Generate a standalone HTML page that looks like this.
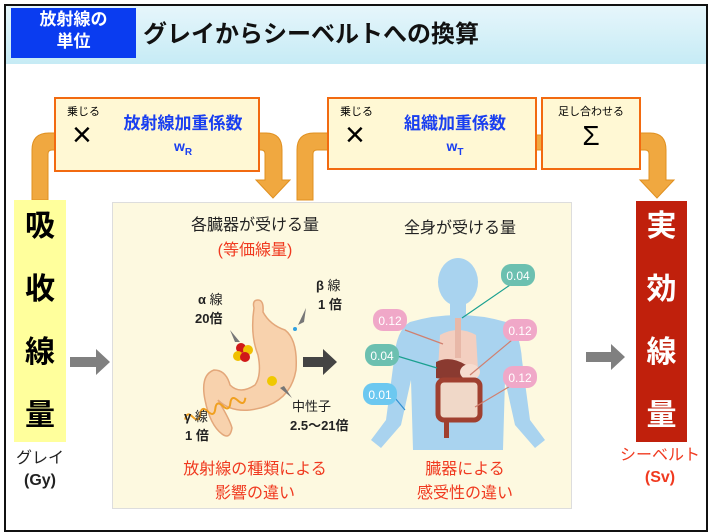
<!DOCTYPE html>
<html><head><meta charset="utf-8"><style>
body{margin:0;width:709px;height:532px;background:#fff;overflow:hidden;font-family:"Liberation Sans","Noto Sans CJK JP",sans-serif;}
.a{position:absolute;}
.c{position:absolute;text-align:center;white-space:nowrap;}
</style></head><body>
<div class="a" style="left:4px;top:4px;width:700px;height:524px;border:2px solid #111;"></div>
<div class="a" style="left:6px;top:6px;width:700px;height:58px;background:linear-gradient(#e6f6fb,#c6ebf5);"></div>
<div class="a" style="left:11px;top:8px;width:125px;height:50px;background:#0a3cf0;"></div>
<div class="c" style="left:11px;top:9px;width:125px;color:#fff;font-size:17px;line-height:22px;font-weight:bold;">放射線の<br>単位</div>
<div class="a" style="left:143px;top:14px;font-size:24px;font-weight:bold;color:#111;">グレイからシーベルトへの換算</div>

<svg class="a" style="left:0;top:0" width="709" height="532">
<g fill="#f0a840" stroke="#e09020" stroke-width="1">
<path d="M32 200 V150 Q32 133 49 133 H60 V150 H52 Q48 150 48 154 V200 Z"/>
<path d="M255 133 H266 Q282 133 282 150 V180 H290 L273 198 L256 180 H265 V154 Q265 150 261 150 H255 Z"/>
<path d="M297 200 V150 Q297 133 314 133 H330 V150 H317 Q313 150 313 154 V200 Z"/>
<path d="M533 135 H543 V150 H533 Z"/>
<path d="M638 133 H650 Q666 133 666 150 V180 H674 L657 198 L640 180 H649 V154 Q649 150 645 150 H638 Z"/>
</g>
<g fill="#808080"><path d="M70 357 H96 V349 L110 362 L96 375 V367 H70 Z"/><path d="M586 352 H611 V344 L625 357 L611 370 V362 H586 Z"/></g>
</svg>

<div class="a" style="left:54px;top:97px;width:202px;height:71px;border:2px solid #f26a10;background:#fff8d4;"></div>
<div class="a" style="left:67px;top:103px;font-size:11px;">乗じる</div>
<div class="a" style="left:72px;top:116px;font-size:34px;">×</div>
<div class="c" style="left:108px;top:113px;width:150px;color:#1a3ff0;font-weight:bold;font-size:17px;line-height:22px;">放射線加重係数<br><span style="font-size:14px">w<sub style="font-size:10px">R</sub></span></div>

<div class="a" style="left:327px;top:97px;width:206px;height:69px;border:2px solid #f26a10;background:#fff8d4;"></div>
<div class="a" style="left:340px;top:103px;font-size:11px;">乗じる</div>
<div class="a" style="left:345px;top:116px;font-size:34px;">×</div>
<div class="c" style="left:380px;top:113px;width:150px;color:#1a3ff0;font-weight:bold;font-size:17px;line-height:22px;">組織加重係数<br><span style="font-size:14px">w<sub style="font-size:10px">T</sub></span></div>

<div class="a" style="left:541px;top:97px;width:96px;height:69px;border:2px solid #f26a10;background:#fff8d4;"></div>
<div class="c" style="left:541px;top:103px;width:100px;font-size:11px;">足し合わせる</div>
<div class="c" style="left:541px;top:120px;width:100px;font-size:28px;">Σ</div>

<div class="a" style="left:14px;top:200px;width:52px;height:242px;background:#ffff9c;"></div>
<div class="c" style="left:14px;top:195px;width:52px;font-size:30px;font-weight:bold;line-height:63px;">吸<br>收<br>線<br>量</div>
<div class="c" style="left:10px;top:448px;width:60px;font-size:16px;line-height:22px;color:#222;">グレイ<br><b>(Gy)</b></div>

<div class="a" style="left:636px;top:201px;width:51px;height:241px;background:#c0200c;"></div>
<div class="c" style="left:636px;top:195px;width:51px;font-size:30px;font-weight:bold;line-height:63px;color:#fff;">実<br>効<br>線<br>量</div>
<div class="c" style="left:600px;top:445px;width:120px;font-size:16px;line-height:22px;color:#f03a20;">シーベルト<br><b>(Sv)</b></div>

<div class="a" style="left:112px;top:202px;width:458px;height:305px;background:#fdf9e0;border:1px solid #ddd;"></div>
<div class="c" style="left:155px;top:211px;width:200px;font-size:16px;color:#222;">各臓器が受ける量</div>
<div class="c" style="left:155px;top:236px;width:200px;font-size:16px;color:#f03a20;">(等価線量)</div>
<div class="c" style="left:370px;top:214px;width:180px;font-size:16px;color:#222;">全身が受ける量</div>
<div class="c" style="left:155px;top:458px;width:200px;font-size:16px;line-height:24px;color:#f03a20;">放射線の種類による<br>影響の違い</div>
<div class="c" style="left:375px;top:458px;width:180px;font-size:16px;line-height:24px;color:#f03a20;">臓器による<br>感受性の違い</div>

<svg class="a" style="left:0;top:0" width="709" height="532" font-family="Liberation Sans,Noto Sans CJK JP,sans-serif">
<path d="M254 308 Q252 300 258 300 Q264 300 263 312 Q270 325 285 330 Q298 340 296 370 Q290 405 250 410 Q230 412 218 400 Q230 420 232 428 Q230 440 222 434 Q210 425 205 400 Q200 375 214 370 Q226 370 230 385 Q240 395 255 385 Q262 375 258 355 Q250 335 254 308 Z" fill="#f8d2ad" stroke="#e3a77a" stroke-width="1.5"/>
<path d="M180 410 q4 -8 8 0 q4 8 8 0 q4 -8 8 0 q4 8 8 0 q4 -8 8 0 q4 8 8 0 q4 -8 8 0 q4 8 8 0" fill="none" stroke="#f0a020" stroke-width="2" transform="rotate(-20 210 400)"/>
<circle cx="241" cy="348" r="5" fill="#d01818"/><circle cx="248" cy="350" r="5" fill="#f0c000"/><circle cx="238" cy="356" r="5" fill="#f0c000"/><circle cx="245" cy="357" r="5" fill="#d01818"/>
<circle cx="272" cy="381" r="5" fill="#f0c800"/><circle cx="295" cy="329" r="2" fill="#30a0e0"/>
<g fill="#777"><path d="M230 330 l10 12 l-5 0 z"/><path d="M306 308 l-8 17 l6 -3 z"/><path d="M292 398 l-12 -10 l4 -2 z"/></g>
<path d="M303 357 H323 V349 L337 362 L323 375 V367 H303 Z" fill="#444"/>
<g font-size="13" fill="#222" font-weight="bold">
<text x="198" y="304">α<tspan font-weight="normal"> 線</tspan></text><text x="195" y="323">20倍</text>
<text x="316" y="290">β<tspan font-weight="normal"> 線</tspan></text><text x="318" y="309">1 倍</text>
<text x="184" y="421">γ<tspan font-weight="normal"> 線</tspan></text><text x="185" y="440">1 倍</text>
<text x="292" y="411" font-weight="normal">中性子</text><text x="290" y="430">2.5〜21倍</text>
</g>
<g fill="#a9d3ef">
<ellipse cx="458" cy="282" rx="20" ry="24"/>
<rect x="450" y="300" width="16" height="20"/>
<path d="M410 322 Q458 308 506 322 Q520 330 522 360 L530 420 L545 440 L535 448 L515 425 L505 380 L503 450 L413 450 L411 380 L401 425 L381 448 L371 440 L386 420 L394 360 Q396 330 410 322 Z"/>
</g>
<path d="M440 335 Q458 325 476 335 L478 370 L438 370 Z" fill="#f3cfc0"/>
<rect x="455" y="318" width="6" height="40" fill="#e8b8a8"/>
<path d="M436 362 Q450 355 466 365 L462 382 L436 378 Z" fill="#8a3a30"/>
<ellipse cx="470" cy="372" rx="10" ry="8" fill="#f6dccf"/>
<rect x="438" y="380" width="42" height="40" rx="6" fill="#f0d8c8" stroke="#a04030" stroke-width="5"/>
<rect x="444" y="420" width="5" height="18" fill="#a04030"/>
<g stroke-width="1.2">
<line x1="462" y1="318" x2="510" y2="285" stroke="#1aa090"/>
<line x1="405" y1="330" x2="443" y2="344" stroke="#d08070"/>
<line x1="397" y1="356" x2="437" y2="368" stroke="#1aa090"/>
<line x1="395" y1="398" x2="405" y2="410" stroke="#3090d0"/>
<line x1="512" y1="340" x2="470" y2="375" stroke="#d08070"/>
<line x1="512" y1="385" x2="475" y2="407" stroke="#d08070"/>
</g>
<g font-size="12" fill="#fff" text-anchor="middle">
<rect x="501" y="264" width="34" height="22" rx="10" fill="#6cc0b0"/><text x="518" y="280">0.04</text>
<rect x="373" y="309" width="34" height="22" rx="10" fill="#f0a8c8"/><text x="390" y="325">0.12</text>
<rect x="503" y="319" width="34" height="22" rx="10" fill="#f0a8c8"/><text x="520" y="335">0.12</text>
<rect x="365" y="344" width="34" height="22" rx="10" fill="#6cc0b0"/><text x="382" y="360">0.04</text>
<rect x="503" y="366" width="34" height="22" rx="10" fill="#f0a8c8"/><text x="520" y="382">0.12</text>
<rect x="363" y="383" width="34" height="22" rx="10" fill="#6cc8f0"/><text x="380" y="399">0.01</text>
</g>
</svg>
</body></html>
